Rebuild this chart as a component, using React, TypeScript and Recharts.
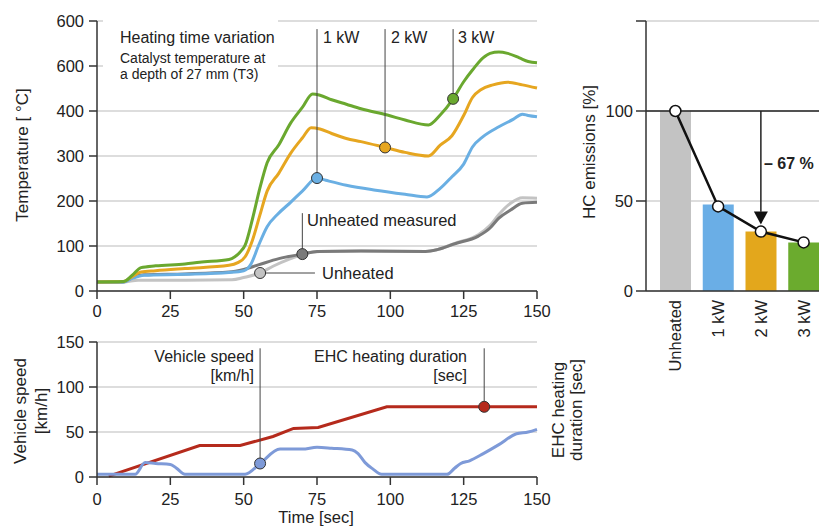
import React from 'react';
import {
  LineChart,
  Line,
  XAxis,
  YAxis,
  CartesianGrid,
  ReferenceLine,
  ReferenceDot,
  ComposedChart,
  Bar,
  Cell,
} from 'recharts';

const FONT = '"Liberation Sans", Arial, Helvetica, sans-serif';

// ---------- axis ticks ----------
const timeTicks = [0, 25, 50, 75, 100, 125, 150];
const tempTicks = [0, 100, 200, 300, 400, 500, 600];
const tempTickLabels = ['0', '100', '200', '300', '400', '600', '600'];
const speedTicks = [0, 50, 100, 150];
const hcTicks = [0, 50, 100, 150];
const hcTickLabels = ['0', '50', '100', ''];

// ---------- temperature series [time, °C] ----------
const kw3Temp: [number, number][] = [
  [0, 20], [9, 21], [12, 35], [15, 52], [20, 56], [30, 60], [35, 64], [45, 70], [47, 76], [49, 88],
  [50.5, 102], [53, 160], [55.5, 228], [58, 285], [62, 325], [66, 373], [70, 408], [73.5, 438],
  [76, 435], [80, 425], [85, 415], [90, 405], [99, 391], [105, 380], [113, 369], [117, 391],
  [121.4, 427], [125, 465], [128, 491], [131.6, 518], [134, 528], [137, 531], [140, 528],
  [144, 518], [147, 510], [150, 507],
];
const kw2Temp: [number, number][] = [
  [0, 20], [9, 21], [12, 32], [15, 42], [20, 45], [30, 50], [45, 57], [48, 63], [50.5, 76],
  [53, 113], [55.5, 168], [58, 222], [62, 262], [66, 306], [70, 340], [73, 363], [76, 360],
  [80, 350], [85, 339], [90, 332], [98.2, 319], [105, 308], [113, 300], [117, 324], [121, 345],
  [125, 390], [128, 430], [131, 448], [135, 458], [140, 464], [145, 458], [150, 451],
];
const kw1Temp: [number, number][] = [
  [0, 20], [9, 20], [12, 28], [16, 35], [30, 37], [45, 41], [50, 45], [52.5, 60], [55, 100],
  [58, 143], [61.5, 170], [66, 197], [70, 222], [75, 251], [78, 246], [85, 235], [95, 224],
  [105, 215], [112.5, 209], [117, 228], [121, 254], [125, 282], [128, 320], [131.6, 343],
  [137, 365], [142, 382], [145, 393], [147, 390], [150, 387],
];
const unheatedMeasTemp: [number, number][] = [
  [0, 20], [9, 20], [12, 30], [16, 36], [30, 38], [45, 42], [50, 48], [55, 58], [62, 72],
  [70, 82], [75, 88], [90, 89], [112, 88], [116, 92], [122, 105], [130, 122], [134, 140],
  [137, 162], [141, 180], [145, 195], [150, 197],
];
const unheatedTemp: [number, number][] = [
  [0, 20], [9, 20], [14, 24], [30, 24], [46, 25], [50, 30], [55.6, 40], [60, 55], [66, 72],
  [72, 85], [76, 88], [90, 89], [112, 88], [116, 92], [122, 106], [130, 125], [134, 146],
  [137, 170], [141, 195], [145, 207], [150, 206],
];

// ---------- lower panel [time, value] ----------
const vehicleSpeed: [number, number][] = [
  [0, 3], [13, 3], [16.4, 16], [20, 15], [25, 14], [27, 10], [30, 3], [50.5, 3], [55.6, 15],
  [62.4, 31], [70, 31], [75, 33], [80, 32], [87, 30], [89, 26], [91.4, 16], [94, 9], [97, 3],
  [119.3, 3], [122, 10], [124, 15], [127, 18], [131.7, 26], [137, 36], [143, 48], [147, 50],
  [150, 53],
];
const heatingDuration: [number, number][] = [
  [4, 1], [35, 35], [48.8, 35], [60, 45], [67, 54], [75.4, 55], [98.8, 78], [150, 78],
];

// ---------- callout times ----------
const kw1CalloutTime = 75;
const kw2CalloutTime = 98.2;
const kw3CalloutTime = 121.4;
const measCalloutTime = 70;
const unheatedCalloutTime = 55.6;
const speedCalloutTime = 55.6;
const heatingCalloutTime = 132;

// ---------- HC emissions ----------
const hcCategories = ['Unheated', '1 kW', '2 kW', '3 kW'];
const hcBarValues = [100, 48, 33, 27];
const hcLineValues = [100, 47, 33, 27];
const hcColors = ['#c3c3c3', '#6aaee6', '#e3a71c', '#6bab2e'];

const toXY = (pts: [number, number][]) => pts.map(([t, v]) => ({ t, v }));
const valueAt = (pts: [number, number][], t: number) => {
  for (let i = 0; i < pts.length - 1; i++) {
    const [t0, v0] = pts[i];
    const [t1, v1] = pts[i + 1];
    if (t >= t0 && t <= t1) return v0 + ((v1 - v0) * (t - t0)) / (t1 - t0);
  }
  return pts[pts.length - 1][1];
};

const hcData = hcCategories.map((name, i) => ({ name, bar: hcBarValues[i], hc: hcLineValues[i] }));

const AX = '#333';
const GRID = '#d2d2d2';
const TXT = '#222';
const tickStyle = { fontSize: 16.5, fill: TXT, fontFamily: FONT };

const C_GREEN = '#6aa82f';
const C_ORANGE = '#e6a620';
const C_BLUE = '#6aafe3';
const C_DGRAY = '#7a7a7a';
const C_LGRAY = '#c3c3c3';
const C_RED = '#b52a1c';
const C_SPEED = '#7e9ad8';

const CatTick = (props: any) => {
  const { x, y, payload } = props;
  return (
    <text
      x={x}
      y={y}
      transform={`rotate(-90 ${x} ${y})`}
      textAnchor="end"
      dy="0.36em"
      fontSize={16.5}
      fill={TXT}
      fontFamily={FONT}
    >
      {payload.value}
    </text>
  );
};

const ArrowHead = (props: any) => {
  const { cx, cy } = props;
  if (cx == null || cy == null) return null;
  return <polygon points={`${cx},${cy} ${cx - 7},${cy - 13} ${cx + 7},${cy - 13}`} fill="#111" />;
};

const RotText = ({ cx, cy, children, size = 17 }: any) => (
  <text
    x={cx}
    y={cy}
    transform={`rotate(-90 ${cx} ${cy})`}
    textAnchor="middle"
    dy="0.35em"
    fontSize={size}
    fill={TXT}
  >
    {children}
  </text>
);

export default function App() {
  const lineCommon = { type: 'monotone' as const, dataKey: 'v', dot: false, isAnimationActive: false, strokeWidth: 3 };
  const callStroke = '#444';
  return (
    <div
      style={{
        position: 'absolute',
        left: 0,
        top: 0,
        width: 819,
        height: 528,
        overflow: 'hidden',
        background: '#fff',
        fontFamily: FONT,
      }}
    >
      {/* Temperature chart */}
      <div style={{ position: 'absolute', left: 0, top: 0 }}>
        <LineChart width={560} height={330} margin={{ top: 21, right: 23, bottom: 9, left: 57 }}>
          <CartesianGrid vertical={false} stroke={GRID} strokeWidth={1.5} />
          <XAxis
            type="number"
            dataKey="t"
            domain={[0, 150]}
            ticks={timeTicks}
            interval={0}
            height={30}
            tickSize={8}
            tickMargin={6}
            stroke={AX}
            strokeWidth={1.5}
            tick={tickStyle}
            allowDuplicatedCategory={false}
          />
          <YAxis
            type="number"
            domain={[0, 600]}
            ticks={tempTicks}
            interval={0}
            width={40}
            tickSize={8}
            tickMargin={5}
            stroke={AX}
            strokeWidth={1.5}
            tick={tickStyle}
            tickFormatter={(v: number) => tempTickLabels[tempTicks.indexOf(v)]}
          />
          <Line {...lineCommon} data={toXY(unheatedTemp)} stroke={C_LGRAY} />
          <Line {...lineCommon} data={toXY(unheatedMeasTemp)} stroke={C_DGRAY} />
          <Line {...lineCommon} data={toXY(kw1Temp)} stroke={C_BLUE} />
          <Line {...lineCommon} data={toXY(kw2Temp)} stroke={C_ORANGE} />
          <Line {...lineCommon} data={toXY(kw3Temp)} stroke={C_GREEN} />

          <ReferenceLine
            segment={[{ x: kw1CalloutTime, y: valueAt(kw1Temp, kw1CalloutTime) }, { x: kw1CalloutTime, y: 582 }]}
            stroke={callStroke}
            strokeWidth={1}
          />
          <ReferenceLine
            segment={[{ x: kw2CalloutTime, y: valueAt(kw2Temp, kw2CalloutTime) }, { x: kw2CalloutTime, y: 582 }]}
            stroke={callStroke}
            strokeWidth={1}
          />
          <ReferenceLine
            segment={[{ x: kw3CalloutTime, y: valueAt(kw3Temp, kw3CalloutTime) }, { x: kw3CalloutTime, y: 582 }]}
            stroke={callStroke}
            strokeWidth={1}
          />
          <ReferenceLine
            segment={[{ x: measCalloutTime, y: valueAt(unheatedMeasTemp, measCalloutTime) }, { x: measCalloutTime, y: 173 }]}
            stroke={callStroke}
            strokeWidth={1}
          />
          <ReferenceLine
            segment={[{ x: unheatedCalloutTime, y: valueAt(unheatedTemp, unheatedCalloutTime) }, { x: 74.3, y: valueAt(unheatedTemp, unheatedCalloutTime) }]}
            stroke={callStroke}
            strokeWidth={1}
          />
          <ReferenceDot x={kw1CalloutTime} y={valueAt(kw1Temp, kw1CalloutTime)} r={5.5} fill={C_BLUE} stroke="#333" strokeWidth={1} />
          <ReferenceDot x={kw2CalloutTime} y={valueAt(kw2Temp, kw2CalloutTime)} r={5.5} fill={C_ORANGE} stroke="#333" strokeWidth={1} />
          <ReferenceDot x={kw3CalloutTime} y={valueAt(kw3Temp, kw3CalloutTime)} r={5.5} fill={C_GREEN} stroke="#333" strokeWidth={1} />
          <ReferenceDot x={measCalloutTime} y={valueAt(unheatedMeasTemp, measCalloutTime)} r={5.5} fill={C_DGRAY} stroke="#333" strokeWidth={1} />
          <ReferenceDot x={unheatedCalloutTime} y={valueAt(unheatedTemp, unheatedCalloutTime)} r={5.5} fill={C_LGRAY} stroke="#333" strokeWidth={1} />
        </LineChart>
      </div>

      {/* Vehicle speed chart */}
      <div style={{ position: 'absolute', left: 0, top: 320 }}>
        <LineChart width={560} height={208} margin={{ top: 22, right: 23, bottom: 21, left: 57 }}>
          <CartesianGrid vertical={false} stroke={GRID} strokeWidth={1.5} />
          <XAxis
            type="number"
            dataKey="t"
            domain={[0, 150]}
            ticks={timeTicks}
            interval={0}
            height={30}
            tickSize={8}
            tickMargin={8}
            stroke={AX}
            strokeWidth={1.5}
            tick={tickStyle}
          />
          <YAxis
            type="number"
            domain={[0, 150]}
            ticks={speedTicks}
            interval={0}
            width={40}
            tickSize={8}
            tickMargin={5}
            stroke={AX}
            strokeWidth={1.5}
            tick={tickStyle}
          />
          <Line {...lineCommon} type="linear" data={toXY(heatingDuration)} stroke={C_RED} />
          <Line {...lineCommon} data={toXY(vehicleSpeed)} stroke={C_SPEED} />
          <ReferenceLine
            segment={[{ x: speedCalloutTime, y: valueAt(vehicleSpeed, speedCalloutTime) }, { x: speedCalloutTime, y: 143 }]}
            stroke={callStroke}
            strokeWidth={1}
          />
          <ReferenceLine
            segment={[{ x: heatingCalloutTime, y: valueAt(heatingDuration, heatingCalloutTime) }, { x: heatingCalloutTime, y: 143 }]}
            stroke={callStroke}
            strokeWidth={1}
          />
          <ReferenceDot x={speedCalloutTime} y={valueAt(vehicleSpeed, speedCalloutTime)} r={5.5} fill={C_SPEED} stroke="#333" strokeWidth={1} />
          <ReferenceDot x={heatingCalloutTime} y={valueAt(heatingDuration, heatingCalloutTime)} r={5.5} fill={C_RED} stroke="#333" strokeWidth={1} />
        </LineChart>
      </div>

      {/* HC emissions chart */}
      <div style={{ position: 'absolute', left: 560, top: 0 }}>
        <ComposedChart width={280} height={400} data={hcData} margin={{ top: 21, right: 15, bottom: 79, left: 46 }}>
          <CartesianGrid vertical={false} stroke={GRID} strokeWidth={1.5} />
          <XAxis
            type="category"
            dataKey="name"
            padding={{ left: 8, right: 0 }}
            height={30}
            tickLine={false}
            tickSize={0}
            tickMargin={9}
            interval={0}
            stroke={AX}
            strokeWidth={1.5}
            tick={<CatTick />}
          />
          <YAxis
            type="number"
            domain={[0, 150]}
            ticks={hcTicks}
            interval={0}
            width={40}
            tickSize={10}
            tickMargin={3}
            stroke={AX}
            strokeWidth={1.5}
            tick={tickStyle}
            tickFormatter={(v: number) => hcTickLabels[hcTicks.indexOf(v)]}
          />
          <Bar dataKey="bar" barSize={31} isAnimationActive={false}>
            {hcData.map((d, i) => (
              <Cell key={d.name} fill={hcColors[i]} />
            ))}
          </Bar>
          <ReferenceLine y={100} stroke="#222" strokeWidth={1.5} />
          <ReferenceLine
            segment={[{ x: '2 kW', y: 100 }, { x: '2 kW', y: 44 }]}
            stroke="#222"
            strokeWidth={1.5}
          />
          <ReferenceDot x="2 kW" y={37} r={1} shape={<ArrowHead />} />
          <Line
            type="linear"
            dataKey="hc"
            stroke="#111"
            strokeWidth={2.5}
            isAnimationActive={false}
            dot={{ r: 5.5, fill: '#fff', stroke: '#111', strokeWidth: 1.5 }}
          />
        </ComposedChart>
      </div>

      {/* Text overlay */}
      <svg
        width={819}
        height={528}
        style={{ position: 'absolute', left: 0, top: 0, pointerEvents: 'none', fontFamily: FONT }}
      >
        <rect x={103} y={13} width={175} height={74} fill="#fff" />
        <text x={120} y={43} fontSize={16} fill={TXT}>Heating time variation</text>
        <text x={120} y={63} fontSize={14} fill={TXT}>Catalyst temperature at</text>
        <text x={120} y={79} fontSize={14} fill={TXT}>a depth of 27 mm (T3)</text>
        <text x={323} y={43} fontSize={16} fill={TXT}>1 kW</text>
        <text x={391} y={43} fontSize={16} fill={TXT}>2 kW</text>
        <text x={458} y={43} fontSize={16} fill={TXT}>3 kW</text>
        <text x={307} y={226} fontSize={16.5} fill={TXT}>Unheated measured</text>
        <text x={322} y={279} fontSize={16.5} fill={TXT}>Unheated</text>
        <RotText cx={22} cy={155}>Temperature [ °C]</RotText>

        <text x={254} y={362} fontSize={16} fill={TXT} textAnchor="end">Vehicle speed</text>
        <text x={254} y={381} fontSize={16} fill={TXT} textAnchor="end">[km/h]</text>
        <text x={467} y={362} fontSize={16} fill={TXT} textAnchor="end">EHC heating duration</text>
        <text x={467} y={381} fontSize={16} fill={TXT} textAnchor="end">[sec]</text>
        <RotText cx={20} cy={411}>Vehicle speed</RotText>
        <RotText cx={41} cy={411}>[km/h]</RotText>
        <RotText cx={558} cy={410}>EHC heating</RotText>
        <RotText cx={576} cy={410}>duration [sec]</RotText>
        <text x={316} y={523} fontSize={16.5} fill={TXT} textAnchor="middle">Time [sec]</text>

        <RotText cx={589} cy={152}>HC emissions [%]</RotText>
        <text x={764} y={169} fontSize={16} fontWeight="bold" fill={TXT}>– 67 %</text>
      </svg>
    </div>
  );
}
